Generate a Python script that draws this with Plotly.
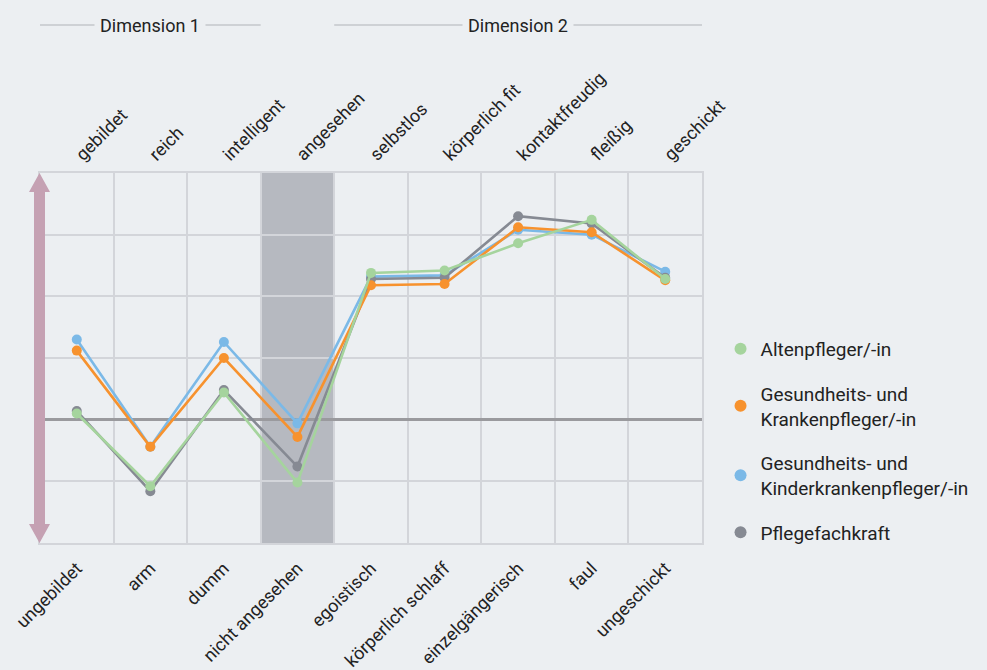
import plotly.graph_objects as go

bottom_labels = ["ungebildet", "arm", "dumm", "nicht angesehen", "egoistisch",
                 "körperlich schlaff", "einzelgängerisch", "faul", "ungeschickt"]
top_labels = ["gebildet", "reich", "intelligent", "angesehen", "selbstlos",
              "körperlich fit", "kontaktfreudig", "fleißig", "geschickt"]

series_names = ["Altenpfleger/-in",
                "Gesundheits- und<br>Krankenpfleger/-in",
                "Gesundheits- und<br>Kinderkrankenpfleger/-in",
                "Pflegefachkraft"]
alten = [0.05, -0.54, 0.22, -0.51, 1.19, 1.21, 1.43, 1.62, 1.14]
kranken = [0.56, -0.22, 0.50, -0.14, 1.09, 1.10, 1.56, 1.52, 1.13]
kinder = [0.65, -0.22, 0.63, -0.03, 1.16, 1.17, 1.54, 1.50, 1.20]
fach = [0.07, -0.58, 0.24, -0.38, 1.14, 1.15, 1.65, 1.59, 1.15]

colors = {"alten": "#a5d49d", "kranken": "#f7922e", "kinder": "#7bb9e7", "fach": "#868a93"}

BG = "#eceff2"
GRID = "#d3d5da"
FONT = "Roboto, sans-serif"
xs = list(range(len(bottom_labels)))

fig = go.Figure()

# legend-only entries (dots)
for name, key in zip(series_names, ["alten", "kranken", "kinder", "fach"]):
    fig.add_trace(go.Scatter(x=[None], y=[None], mode="markers", name=name,
                             marker=dict(color=colors[key], size=15),
                             legendgroup=key, showlegend=True))

# data traces (draw order: kinder, fach, kranken, alten)
for key, vals in [("kinder", kinder), ("fach", fach), ("kranken", kranken), ("alten", alten)]:
    fig.add_trace(go.Scatter(x=xs, y=vals, mode="lines+markers",
                             line=dict(color=colors[key], width=2.6),
                             marker=dict(color=colors[key], size=10),
                             showlegend=False, hoverinfo="skip", legendgroup=key))

# invisible trace for top axis
fig.add_trace(go.Scatter(x=xs, y=alten, xaxis="x2", mode="markers",
                         marker=dict(opacity=0), showlegend=False, hoverinfo="skip"))

# shaded column behind "angesehen / nicht angesehen"
fig.add_shape(type="rect", xref="x", yref="paper", x0=2.5, x1=3.5, y0=0, y1=1,
              fillcolor="#b6b9c0", line=dict(width=0), layer="between")

# double-headed arrow on the left
hl = 19 / 370
fig.add_shape(type="path", xref="paper", yref="paper", xsizemode="pixel", xanchor=0,
              path=(f"M -6,{1-hl} L -11,{1-hl} L -0.5,1 L 10,{1-hl} L 5,{1-hl} "
                    f"L 5,{hl} L 10,{hl} L -0.5,0 L -11,{hl} L -6,{hl} Z"),
              fillcolor="#c5a1b3", line=dict(width=0), layer="above")

# dimension header lines
ylev = (543 - 25) / 370
for x0, x1, txt, xc in [(-0.5, 2.5, "Dimension 1", 1), (3.5, 8.5, "Dimension 2", 6)]:
    fig.add_shape(type="line", xref="x", yref="paper", x0=x0, x1=x1, y0=ylev, y1=ylev,
                  line=dict(color="#b0b3b8", width=1.2))
    fig.add_annotation(x=xc, y=ylev, xref="x", yref="paper", text=txt, showarrow=False,
                       font=dict(size=18, color="#222", family=FONT), bgcolor=BG,
                       borderpad=5, yanchor="middle")

fig.update_layout(
    width=987, height=670,
    paper_bgcolor=BG, plot_bgcolor=BG,
    margin=dict(l=40, r=285, t=173, b=127),
    font=dict(family=FONT, size=18, color="#222"),
    xaxis=dict(range=[-0.5, 8.5], tickmode="array", tickvals=xs, ticktext=bottom_labels,
               tickangle=-45, showgrid=False, zeroline=False, ticks="", automargin=False,
               showline=True, linecolor=GRID, linewidth=1.5, mirror=True,
               minor=dict(tickmode="linear", tick0=-0.5, dtick=1, showgrid=True,
                          gridcolor=GRID, gridwidth=1.5, ticks=""),
               tickfont=dict(size=18), ticklabelstandoff=6),
    xaxis2=dict(range=[-0.5, 8.5], overlaying="x", side="top", tickmode="array",
                tickvals=xs, ticktext=top_labels, tickangle=-45, showgrid=False,
                automargin=False, zeroline=False, ticks="", tickfont=dict(size=18),
                ticklabelstandoff=4),
    yaxis=dict(range=[-1, 2], dtick=0.5, showgrid=True, gridcolor=GRID, gridwidth=1.5,
               showticklabels=False, ticks="", zeroline=True, zerolinecolor="#9a9a9e",
               zerolinewidth=2.5, showline=True, linecolor=GRID, linewidth=1.5, mirror=True,
               automargin=False),
    legend=dict(x=1.028, y=0.576, xanchor="left", yanchor="top", bgcolor="rgba(0,0,0,0)",
                font=dict(size=19, color="#222", family=FONT), tracegroupgap=17,
                itemsizing="constant"),
    showlegend=True,
)

fig.write_html("out.html", config={"displayModeBar": False},
               post_script="document.body.style.margin='0';")
